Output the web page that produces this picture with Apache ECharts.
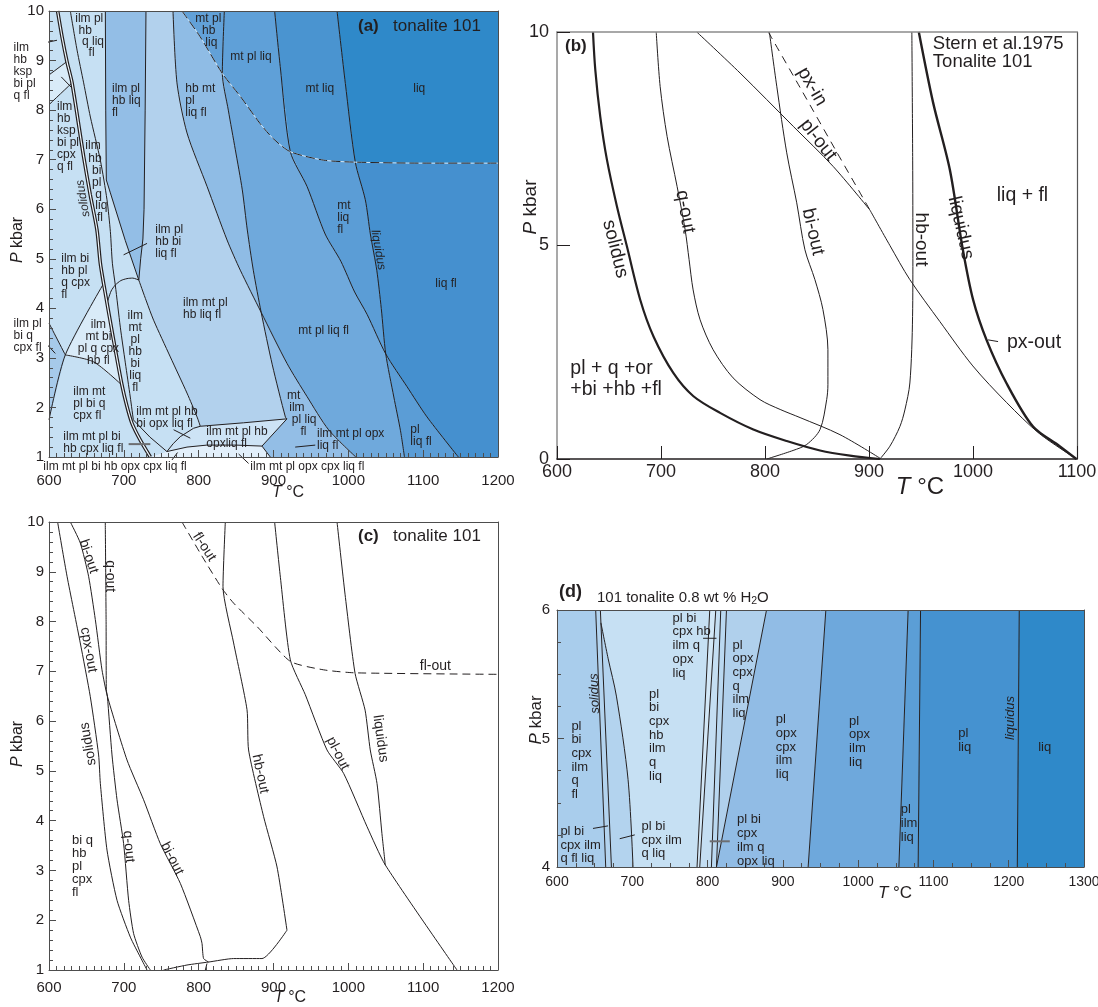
<!DOCTYPE html>
<html><head><meta charset="utf-8">
<script src="https://cdn.jsdelivr.net/npm/echarts@6/dist/echarts.min.js"></script>
<style>html,body{margin:0;padding:0;background:#fff}#c{width:1098px;height:1007px}</style>
</head><body><div id="c"></div>
<script>
const INK='#231f20';
const FONT='"Liberation Sans", Arial, Helvetica, sans-serif';
const rev=a=>a.slice().reverse();

// ================= Panel (a) data (T °C, P kbar) =================
const aSolidus=[[611.5,10],[617.4,9.48],[624,8.98],[630.8,8.55],[646.3,7.06],[655,6.3],[664.1,5.58],[668.6,4.91],[673,4.5],[686.3,3.36],[697.5,2.45],[704.2,2.02],[710.9,1.68],[722,1.34],[735.4,1.0]];
const aLineB=[[628.5,10],[637.5,9.21],[646.3,8.55],[655.3,7.86],[668.6,6.99],[677.5,6.19],[682,5.55],[684.7,4.91],[688.6,4.47],[695.3,3.62],[702,2.9],[708.6,2.21],[712.7,1.75]];
const aLineBLow=[[712.7,1.75],[735,1.4],[757.6,1.11]];
const aStripL=[[675.3,10],[675.8,8],[676.6,6.59],[682,6.33],[701.9,5.37],[720,4.57]];
const aStripR=[[729.6,10],[728.5,8],[727,6],[725.5,5.4],[722.5,5.0],[720,4.57]];
const aDome=[[677.5,4.1],[683,4.35],[688.6,4.47],[696,4.56],[704.2,4.6],[712,4.61],[720,4.57]];
const aDomeR=[[720,4.57],[730,4.15],[739.8,3.76],[762.1,3.02],[784.4,2.29],[797.8,1.81],[802.2,1.62]];
const aBoxTop=[[757.6,1.11],[766,1.27],[775.4,1.41],[793.2,1.58],[802.2,1.62],[860,1.69],[918,1.77]];
const aBoxRight=[[918,1.77],[884.6,1.22]];
const aBoxBot=[[757.6,1.11],[784.4,1.2],[811,1.24],[850,1.24],[884.6,1.22]];
const aLensR=[[884.6,1.22],[895.7,1.0]];
const aTopLeft1=[[600,8.71],[624,8.98]];
const aTopLeft2=[[600,8.11],[630.8,8.55]];
const aLeftA=[[600,3.7],[621.8,3.06]];
const aLeftB=[[600,1.75],[621.8,3.06],[673,4.5]];
const aLeftC=[[621.8,3.06],[659.6,2.92],[697.5,2.45]];
const aX1=[[765.7,10],[771,8.55],[784.4,7.54],[811.2,6.46],[837.9,5.38],[855.6,4.77],[883.5,3.92],[918,2.89],[944.8,2.22],[973.6,1.55],[1010,1.0]];
const aX2=[[834.3,10],[831.6,8.74],[839.6,8.0],[849,7.2],[858.3,6.39],[865,5.58],[873,4.77],[883.5,3.92],[898.4,2.86],[916,1.8],[918,1.77]];
const aFlOut=[[777.7,10],[802,9.48],[831.6,8.74],[856,8.27],[882,7.73],[900,7.42],[922.5,7.16],[967,6.99],[1009.3,6.95],[1100,6.93],[1200,6.93]];
const aX3=[[901.5,10],[909,8.88],[922.5,7.16],[944.8,6.46],[969,5.5],[990,4.95],[1008.4,4.33],[1025,3.88],[1050,3.08],[1078.4,2.42],[1105.1,1.81],[1147,1.0]];
const aLiq=[[984.9,10],[996,8.54],[1009.3,6.95],[1022.7,6.19],[1029.4,5.5],[1038,4.77],[1044,4.0],[1050,3.08],[1060.8,2.21],[1069.7,1.53],[1075,1.0]];
const aLeaders=[[[579.4,9.31],[610.7,9.41]],[[616.4,8.67],[629.8,8.46]],[[589.3,3.40],[608.4,3.09]],[[699.7,5.08],[731,5.31]],[[766.5,1.55],[788.8,1.38]],[[764.3,0.94],[771.8,1.09]],[[853.4,1.06],[866.7,0.87]],[[929,1.2],[955.8,1.24]]];
const aLeaderThick=[[706.4,1.26],[735.4,1.26]];
const aLabels=[
 [635.1,9.96,'ilm pl'],[639.5,9.72,'hb'],[644.1,9.50,'q liq'],[652.9,9.27,'fl'],
 [552.7,9.39,'ilm\nhb\nksp\nbi pl\nq fl'],
 [610.7,8.2,'ilm\nhb\nksp\nbi pl\ncpx\nq fl'],
 [648.5,7.40,'ilm'],[652.5,7.15,'hb'],[657.5,6.89,'bi'],[657.5,6.66,'pl'],[661.9,6.42,'q'],[661.9,6.19,'liq'],[664.1,5.95,'fl'],
 [684.2,8.55,'ilm pl\nhb liq\nfl'],
 [782.1,8.55,'hb mt\npl\nliq fl'],
 [795.5,9.96,'mt pl'],[804.5,9.72,'hb'],[808.9,9.48,'liq'],
 [842.3,9.19,'mt pl liq'],
 [942.6,8.55,'mt liq'],
 [1086.8,8.55,'liq'],
 [985.2,6.19,'mt\nliq\nfl'],
 [742,5.70,'ilm pl\nhb bi\nliq fl'],
 [616.4,5.12,'ilm bi\nhb pl\nq cpx\nfl'],
 [779.1,4.23,'ilm mt pl\nhb liq fl'],
 [933.1,3.66,'mt pl liq fl'],
 [1116.3,4.61,'liq fl'],
 [552.7,3.81,'ilm pl\nbi q\ncpx fl'],
 [666,3.79,'ilm\nmt bi\npl q cpx\nhb fl',{align:'center'}],
 [715.3,3.97,'ilm\nmt\npl\nhb\nbi\nliq\nfl',{align:'center'}],
 [918,2.35,'mt'],[921,2.12,'ilm'],[924.5,1.88,'pl liq'],[936,1.64,'fl'],
 [632.5,2.43,'ilm mt\npl bi q\ncpx fl'],
 [716.7,2.03,'ilm mt pl hb\nbi opx liq fl'],
 [619.1,1.53,'ilm mt pl bi\nhb cpx liq fl'],
 [810.2,1.63,'ilm mt pl hb\nopxliq fl'],
 [958.1,1.59,'ilm mt pl opx\nliq fl'],
 [1082.8,1.67,'pl\nliq fl'],
 [592.4,0.92,'ilm mt pl bi hb opx cpx liq fl'],
 [869,0.92,'ilm mt pl opx cpx liq fl']
];
const aRotLabels=[[645.5,6.22,'solidus',100],[1040,5.18,'liquidus',-80]];

// ================= Panel (b) data =================
const bSolidus=[[634.6,10],[636.8,9.12],[641.6,8.02],[648.0,7.01],[657.6,5.92],[667.2,4.98],[680.0,3.73],[692.8,2.87],[712.0,2.01],[731.2,1.47],[756.8,1.08],[788.8,0.69],[820.9,0.42],[852.9,0.2],[881.7,0.08],[910.5,0]];
const bQout=[[695.4,10],[699.2,8.72],[705.9,7.55],[715.5,6.38],[723.2,5.37],[727,4.67],[730.9,3.96],[737.6,3.26],[750.1,2.56],[769.3,1.9],[795.2,1.39],[814.6,1.16],[833.7,0.97],[872.1,0.57],[910.5,0.02]];
const bBiout=[[804.2,10],[811.3,8.73],[820.9,7.17],[830.5,6.0],[838.4,4.9],[848,4.2],[855.7,3.5],[860.5,2.56],[860.5,1.74],[859.3,1.39],[852.9,0.69],[840.1,0.34],[827,0.2],[801.7,0]];
const bPloutU=[[734.4,10],[776,9.04],[827.2,7.79],[865.6,6.85],[900.9,5.83]];
const bPloutL=[[900.9,5.83],[920.1,5.0],[939.3,4.2],[968.1,3.22],[999.8,2.18],[1032.4,1.32],[1064.1,0.59],[1099.6,0]];
const bPxin=[[803.2,10],[833.7,8.7],[867.3,7.26],[900.9,5.83]];
const bHbout=[[941.2,10],[942,7],[942.2,4.88],[941.9,3.34],[939.3,1.78],[934.5,1.15],[929.7,0.76],[920.1,0.3],[910.5,0]];
const bLiq=[[947.9,10],[961.7,8.34],[977.7,6.78],[990.2,4.91],[1000.1,3.73],[1013,2.79],[1032.1,1.78],[1057.7,0.76],[1083.3,0.3],[1099.4,0]];
const bLeader=[[1014.5,2.79],[1024.1,2.75]];
const bLabels=[
 [612.8,2.37,'pl + q +or\n+bi +hb +fl',{lineHeight:21}],
 [1022.8,6.40,'liq + fl'],
 [961.4,9.92,'Stern et al.1975\nTonalite 101',{fontSize:18.5,lineHeight:17.5}],
 [1032.6,2.96,'px-out']
];
const bRotLabels=[[656,4.92,'solidus',-76],[723.2,5.79,'q-out',-80],[846.2,5.32,'bi-out',-77],[845.2,8.72,'px-in',-60],[851.2,7.47,'pl-out',-52],[949.8,5.14,'hb-out',-90],[988.3,5.41,'liquidus',-77]];

// ================= Panel (c) data =================
const cSolidus=[[611.5,10],[624.1,8.91],[641.8,7.57],[655.2,6.49],[666.3,5.32],[668.6,4.75],[677.5,3.41],[690.9,2.4],[708.7,1.66],[722,1.26],[731,1.0]];
const cQout=[[675.2,10],[676.3,8],[676.6,6.63],[678,6.5],[684.2,5.32],[690.9,4.42],[699.7,3.54],[706.4,2.4],[713.1,1.73],[724.3,1.26],[735.4,1.0]];
const cBiout=[[628.5,10],[641.8,9.58],[652.9,8.91],[661.9,8.04],[670.8,7.03],[678,6.5],[704.2,5.22],[726.4,4.42],[748.7,3.54],[775.5,2.74],[802.2,1.67],[804.5,1.53],[806.6,1.23],[813.3,1.16]];
const cShort=[[811.1,1.13],[808.9,1.0]];
const cHbout=[[835.6,10],[832.5,8.7],[846.7,7.57],[864.6,6.23],[866.7,5.42],[886.8,4.08],[904.7,3.07],[918,1.8]];
const cBase=[[918,1.8],[884.6,1.23],[846.7,1.23],[813.3,1.16],[784.4,1.1],[753.1,1.0]];
const cFlOut=[[777.7,10],[805,9.3],[831,8.67],[846.7,8.37],[878,7.9],[922.5,7.2],[967,7.03],[1009,6.97],[1200,6.94]];
const cPlout=[[901.5,10],[909.2,8.89],[922.5,7.23],[942.5,6.53],[971.5,5.42],[993.7,4.95],[1025,3.88],[1049.4,3.11],[1145.2,1.0]];
const cLiq=[[984.9,10],[995.6,8.55],[1009,6.96],[1022.4,6.22],[1029.3,5.42],[1038.3,4.75],[1044.9,3.74],[1049.4,3.11]];
const cLabels=[[630.7,3.73,'bi q\nhb\npl\ncpx\nfl',{lineHeight:13}]];
const cRotLabels=[[652.9,9.31,'bi-out',-72],[681.9,8.91,'q-out',-90],[652.9,7.43,'cpx-out',-80],[652.5,5.54,'solidus',100],[706.4,3.48,'q-out',-85],[764.4,3.24,'bi-out',-63],[882.4,4.94,'hb-out',-78],[986,5.35,'pl-out',-63],[1043,5.65,'liquidus',-82],[807.5,9.5,'fl-out',-57],[1116.3,7.11,'fl-out',0]];

// ================= Panel (d) data =================
const dL1=[[651.4,6],[664.7,4]];
const dL2=[[657.6,6],[672.3,4]];
const dL3=[[658.3,5.9],[668,5.62],[678.9,5.33],[694.4,4.68],[701,4]];
const dL4a=[[802.9,6],[786,4]];
const dL4b=[[810.9,6],[789.6,4]];
const dL4c=[[817.5,6],[805.1,4]];
const dL4d=[[825.1,6],[811.8,4]];
const dL5=[[878.3,6],[811.8,4]];
const dL6=[[957.1,6],[933.6,4]];
const dL7=[[1066.4,6],[1054.1,4]];
const dL8=[[1082.9,6],[1079.7,4]];
const dLiq=[[1214,6],[1211.4,4]];
const dLeaders=[[[647.8,4.30],[667.8,4.32]],[[683.3,4.22],[703.3,4.25]],[[794,5.78],[811.8,5.78]]];
const dLeaderThick=[[802.9,4.2],[829.5,4.2]];
const dLabels=[
 [619.1,5.15,'pl\nbi\ncpx\nilm\nq\nfl'],
 [604.5,4.33,'pl bi\ncpx ilm\nq fl liq'],
 [712.2,4.37,'pl bi\ncpx ilm\nq liq'],
 [722.3,5.40,'pl\nbi\ncpx\nhb\nilm\nq\nliq'],
 [753.4,5.99,'pl bi\ncpx hb\nilm q\nopx\nliq'],
 [833.1,5.78,'pl\nopx\ncpx\nq\nilm\nliq'],
 [890.6,5.20,'pl\nopx\ncpx\nilm\nliq'],
 [839.2,4.42,'pl bi\ncpx\nilm q\nopx liq'],
 [988,5.19,'pl\nopx\nilm\nliq'],
 [1056.7,4.50,'pl\nilm\nliq'],
 [1132.9,5.09,'pl\nliq'],
 [1239.2,4.98,'liq']
];
const dRotLabels=[[650.1,5.35,'solidus',92],[1202.5,5.16,'liquidus',90]];

// ================= Region fills =================
const aRegions=[
 {c:'#b2d1ed',p:[[600,1],[600,10],[1200,10],[1200,1]]},
 {c:'#c6e0f3',p:[[600,10],...aStripL,...aDomeR.slice(1),...rev(aBoxTop.slice(0,5)),[735.4,1.0],[600,1]]},
 {c:'#93bee6',p:[...aStripL,...rev(aStripR)]},
 {c:'#d9ebf8',p:[[600,8.71],[624,8.98],[630.8,8.55],[600,8.11]]},
 {c:'#a6caea',p:[[600,3.7],[621.8,3.06],[600,1.75]]},
 {c:'#d9ebf8',p:[[621.8,3.06],[673,4.5],[686.3,3.36],[697.5,2.45],[659.6,2.92]]},
 {c:'#8fbce5',p:[...aX1.slice(0,7),...rev(aX2.slice(1,8)),...rev(aFlOut.slice(0,3))]},
 {c:'#62a1d8',p:[...aFlOut.slice(0,3),...rev(aX2.slice(0,2))]},
 {c:'#5fa0d8',p:[[834.3,10],...aX3.slice(0,3),...rev(aFlOut.slice(2,7))]},
 {c:'#6fa9dc',p:[...aX2.slice(1,8),...aX1.slice(7),...rev(aLiq.slice(7)),...rev(aX3.slice(2,9)),...rev(aFlOut.slice(2,7))]},
 {c:'#5b9dd6',p:[...aX3.slice(2,9),...rev(aLiq.slice(2,8)),...rev(aFlOut.slice(6,9))]},
 {c:'#5b9dd6',p:[...aLiq.slice(7),...rev(aX3.slice(8))]},
 {c:'#4590cf',p:[...aFlOut.slice(8),[1200,1],...rev(aX3.slice(8)),...rev(aLiq.slice(2,8))]},
 {c:'#4a94d0',p:[...aX3.slice(0,3),...aFlOut.slice(6,9),...rev(aLiq.slice(0,3))]},
 {c:'#2f89c9',p:[...aLiq.slice(0,3),...aFlOut.slice(8),[1200,10]]},
 {c:'#93bee6',p:[...aX2.slice(7),aBoxRight[1],aLensR[1],...rev(aX1.slice(6))]},
 {c:'#cde3f5',p:[...aBoxTop,aBoxRight[1],...rev(aBoxBot)]},
 {c:'#e2effa',p:[[735.4,1.0],...aBoxBot,aLensR[1]]}
];
const dBounds=[[[600,6],[600,4]],dL1,dL2,dL4a,dL4b,dL4c,dL4d,dL5,dL6,dL7,dL8,dLiq,[[1300,6],[1300,4]]];
const dColors=['#a9cdec','#b3d3ee','#c6e0f3','#d2e7f6','#c4def2','#bad8f0','#b0d0ec','#91bce5','#6ea8dc','#5b9ed6','#4592d0','#2f89c9'];
const dRegions=dColors.map((c,i)=>({c,p:[...dBounds[i],...rev(dBounds[i+1])]}));
dRegions.push({c:'#b3d3ee',p:[dL3[0],dL2[1],...rev(dL3)]});

// ================= helpers =================
function polySeries(gi,regions){
 return {type:'custom',xAxisIndex:gi,yAxisIndex:gi,silent:true,z:1,clip:true,
  data:regions.map(r=>r.p[0]),
  renderItem:(params,api)=>{const r=regions[params.dataIndex];
   return {type:'polygon',shape:{points:r.p.map(q=>api.coord(q))},style:{fill:r.c,stroke:null}};}};
}
function lineS(gi,data,o){o=o||{};
 return {type:'line',xAxisIndex:gi,yAxisIndex:gi,data,symbol:'none',showSymbol:false,silent:true,
  smooth:o.smooth===undefined?0.25:o.smooth,clip:o.clip===undefined?true:o.clip,z:o.z||5,
  lineStyle:{color:o.color||INK,width:o.width||1,type:o.type||'solid',cap:'butt'}};
}
// text labels anchored at data coordinates, drawn through the axes' scales
function textSeries(gi,items,base){
 return {type:'custom',xAxisIndex:gi,yAxisIndex:gi,silent:true,z:30,clip:false,
  data:items.map(it=>[it[0],it[1]]),
  renderItem:(params,api)=>{const it=items[params.dataIndex];
   const o=Object.assign({},base,(typeof it[3]==='object')?it[3]:{},(typeof it[3]==='number')?{rotate:it[3]}:{});
   const pt=api.coord([it[0],it[1]]);
   return {type:'text',x:pt[0],y:pt[1],rotation:(o.rotate||0)*Math.PI/180,
    style:{text:it[2],fill:INK,fontFamily:FONT,fontSize:o.fontSize,fontStyle:o.fontStyle||'normal',
     lineHeight:o.lineHeight||o.fontSize,align:o.align,verticalAlign:o.verticalAlign}};}};
}
const plainNum=v=>String(v);
function mkX(gi,min,max,iv,o){
 return {gridIndex:gi,type:'value',min,max,interval:iv,position:'bottom',z:10,
  axisLine:{show:true,onZero:false,lineStyle:{color:o.lc||'#4d4d4d',width:o.lw||1}},
  axisTick:{show:true,inside:true,length:o.tl,lineStyle:{color:o.tc||'#4d4d4d',width:1}},
  minorTick:{show:!!o.minor,splitNumber:o.minor||5,length:o.ml||4,lineStyle:{color:o.tc||'#4d4d4d',width:1}},
  splitLine:{show:false},minorSplitLine:{show:false},
  axisLabel:{show:true,color:INK,fontFamily:FONT,fontSize:o.fs,margin:o.m,formatter:plainNum}};
}
function mkY(gi,min,max,iv,o){
 const a=mkX(gi,min,max,iv,o);a.position='left';return a;
}
function frameX(gi,min,max,c,w){return {gridIndex:gi,type:'value',min,max,position:'top',z:10,axisLine:{show:true,onZero:false,lineStyle:{color:c,width:w}},axisTick:{show:false},axisLabel:{show:false},splitLine:{show:false}};}
function frameY(gi,min,max,c,w){return {gridIndex:gi,type:'value',min,max,position:'right',z:10,axisLine:{show:true,onZero:false,lineStyle:{color:c,width:w}},axisTick:{show:false},axisLabel:{show:false},splitLine:{show:false}};}

function txt(x,y,text,size,o){o=o||{};
 return {type:'text',x,y,rotation:o.rot||0,z:50,style:{text,fill:INK,fontFamily:FONT,fontSize:size,fontWeight:o.bold?'bold':'normal',align:o.align||'left',verticalAlign:'middle',
  rich:{i:{fontStyle:'italic',fontSize:size,fontFamily:FONT,fill:INK},s:{fontSize:size*0.7,fontFamily:FONT,fill:INK,padding:[size*0.45,0,0,0]}}}};
}

const TL={align:'left',verticalAlign:'top'};
const CM={align:'center',verticalAlign:'middle'};

// ================= series =================
const series=[];
// (a)
series.push(polySeries(0,aRegions));
[aLineB,aDome,aDomeR,aTopLeft1,aTopLeft2,aLeftA,aLeftB,aLeftC,aX1,aX2,aX3,aLiq].forEach(d=>series.push(lineS(0,d)));
[aLineBLow,aStripL,aStripR,aBoxTop,aBoxRight,aBoxBot,aLensR].forEach(d=>series.push(lineS(0,d,{smooth:0})));
series.push(lineS(0,aFlOut,{color:'#d6e8f6',width:1,z:5}));
series.push(lineS(0,aFlOut,{type:[9,4],width:1,z:6}));
series.push(lineS(0,aSolidus,{width:3.6,z:6}));
series.push(lineS(0,aSolidus,{width:1.2,color:'#eef6fc',z:7}));
aLeaders.forEach(d=>series.push(lineS(0,d,{smooth:0,clip:false,z:8})));
series.push(lineS(0,aLeaderThick,{smooth:0,width:2,color:'#6d6e71',z:8}));
series.push(textSeries(0,aLabels,Object.assign({fontSize:12,lineHeight:12},TL)));
series.push(textSeries(0,aRotLabels,Object.assign({fontSize:12,fontStyle:'italic'},CM)));
// (b)
[bQout,bBiout,bPloutU,bPloutL,bHbout].forEach(d=>series.push(lineS(1,d,{smooth:0.3})));
series.push(lineS(1,bPxin,{smooth:0.3,type:[8,6]}));
series.push(lineS(1,bSolidus,{smooth:0.3,width:2.2}));
series.push(lineS(1,bLiq,{smooth:0.3,width:2.4}));
series.push(lineS(1,bLeader,{smooth:0}));
series.push(textSeries(1,bLabels,Object.assign({fontSize:19.5,lineHeight:20},TL)));
series.push(textSeries(1,bRotLabels,Object.assign({fontSize:19},CM)));
// (c)
[cSolidus,cQout,cBiout,cHbout,cBase,cPlout,cLiq].forEach(d=>series.push(lineS(2,d,{smooth:0.2})));
series.push(lineS(2,cShort,{smooth:0}));
series.push(lineS(2,cFlOut,{type:[8,5],smooth:0.2}));
series.push(textSeries(2,cLabels,Object.assign({fontSize:13},TL)));
series.push(textSeries(2,cRotLabels,Object.assign({fontSize:14},CM)));
// (d)
series.push(polySeries(3,dRegions));
[dL1,dL2,dL4a,dL4b,dL4c,dL4d,dL5,dL6,dL7,dL8,dLiq].forEach(d=>series.push(lineS(3,d,{smooth:0})));
series.push(lineS(3,dL3,{smooth:0.3}));
dLeaders.forEach(d=>series.push(lineS(3,d,{smooth:0,z:8})));
series.push(lineS(3,dLeaderThick,{smooth:0,width:2,color:'#6d6e71',z:8}));
series.push(textSeries(3,dLabels,Object.assign({fontSize:13,lineHeight:13.7},TL)));
series.push(textSeries(3,dRotLabels,Object.assign({fontSize:13,fontStyle:'italic'},CM)));

const FR='#4d4d4d';
const option={
 animation:false,
 grid:[
  {left:49,top:11,width:449,height:446,containLabel:false,outerBoundsMode:'none'},
  {left:557,top:32,width:520,height:427,containLabel:false,outerBoundsMode:'none'},
  {left:49,top:522,width:449,height:448,containLabel:false,outerBoundsMode:'none'},
  {left:557,top:610,width:527,height:257,containLabel:false,outerBoundsMode:'none'}
 ],
 xAxis:[
  mkX(0,600,1200,100,{tl:7,minor:10,ml:4,fs:15,m:16}),
  mkX(1,600,1100,100,{tl:13,fs:18,m:4,lc:INK,lw:1.5,tc:INK}),
  mkX(2,600,1200,100,{tl:7,minor:10,ml:4,fs:15,m:10}),
  mkX(3,600,1300,100,{tl:7,minor:4,ml:4,fs:14,m:8}),
  frameX(0,600,1200,FR,1),frameX(1,600,1100,'#8c8c8c',1.5),frameX(2,600,1200,FR,1),frameX(3,600,1300,FR,1)
 ],
 yAxis:[
  mkY(0,1,10,1,{tl:7,minor:5,ml:4,fs:15,m:5}),
  mkY(1,0,10,5,{tl:13,fs:18,m:8,lc:'#8c8c8c',lw:1.5,tc:INK}),
  mkY(2,1,10,1,{tl:7,minor:5,ml:4,fs:15,m:5}),
  mkY(3,4,6,1,{tl:7,minor:4,ml:4,fs:15,m:7}),
  frameY(0,1,10,FR,1),frameY(1,0,10,'#555',1.2),frameY(2,1,10,FR,1),frameY(3,4,6,FR,1)
 ],
 graphic:[
  txt(358,26,'(a)',17,{bold:true}),txt(393,26,'tonalite 101',17),
  txt(358,536,'(c)',17,{bold:true}),txt(393,536,'tonalite 101',17),
  txt(565,46,'(b)',17,{bold:true}),
  txt(559,592,'(d)',18,{bold:true}),txt(597,598,'101 tonalite 0.8 wt % H{s|2}O',15),
  txt(288,493,'{i|T} °C',16,{align:'center'}),
  txt(18,240,'{i|P} kbar',16,{align:'center',rot:Math.PI/2}),
  txt(920,487,'{i|T} °C',24,{align:'center'}),
  txt(531,207,'{i|P} kbar',19,{align:'center',rot:Math.PI/2}),
  txt(290,998,'{i|T} °C',16,{align:'center'}),
  txt(18,744,'{i|P} kbar',16,{align:'center',rot:Math.PI/2}),
  txt(895,893,'{i|T} °C',17,{align:'center'}),
  txt(536,720,'{i|P} kbar',17,{align:'center',rot:Math.PI/2})
 ],
 series
};
const chart=echarts.init(document.getElementById('c'),null,{renderer:'canvas'});
chart.setOption(option);
</script></body></html>
